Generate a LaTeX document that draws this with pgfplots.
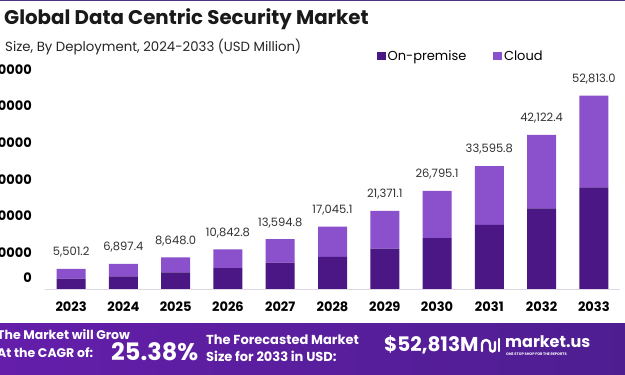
\documentclass[border=0pt]{standalone}
\usepackage{pgfplots}
\pgfplotsset{compat=1.18}
\usepackage{pgfplotstable}
\usepackage{fontspec}
\setmainfont{Poppins}
\definecolor{onprem}{RGB}{74,23,132}
\definecolor{cloud}{RGB}{139,80,204}
\definecolor{bandL}{RGB}{100,30,170}
\definecolor{bandM}{RGB}{162,36,198}
\definecolor{bandR}{RGB}{78,30,145}
\definecolor{topline}{RGB}{80,50,130}
\definecolor{lineg}{RGB}{222,216,230}
\definecolor{valtxt}{RGB}{50,50,50}

\pgfplotstableread{
x onprem cloud total lab
0 2820 2681.2 5501.2 5,501.2
1 3480 3417.4 6897.4 6,897.4
2 4570 4078.0 8648.0 8,648.0
3 5670 5172.8 10842.8 10,842.8
4 7200 6394.8 13594.8 13,594.8
5 8770 8275.1 17045.1 17,045.1
6 11050 10321.1 21371.1 21,371.1
7 13890 12905.1 26795.1 26,795.1
8 17530 16065.8 33595.8 33,595.8
9 22000 20122.4 42122.4 42,122.4
10 27750 25063.0 52813.0 52,813.0
}\datatable

\pgfplotsset{commonax/.style={
  at={(45pt,86pt)}, anchor=south west,
  scale only axis, width=575pt, height=219.6pt,
  xmin=-0.5, xmax=10.5, ymin=0, ymax=60000, clip=false}}

\begin{document}
\begin{tikzpicture}[x=1pt,y=1pt]
\path[use as bounding box] (0,0) rectangle (625,375);
\clip (0,0) rectangle (625,375);
\fill[white] (0,0) rectangle (625,375);
% top line
\fill[topline] (0,373.5) rectangle (625,375);
% bottom banner
\shade[left color=bandL, middle color=bandM, right color=bandR, shading angle=90] (0,0) rectangle (625,51);

\begin{axis}[commonax,
  ybar stacked, bar width=29pt,
  xtick={0,...,10},
  xticklabels={2023,2024,2025,2026,2027,2028,2029,2030,2031,2032,2033},
  ytick={0,10000,20000,30000,40000,50000,60000},
  yticklabels={\smash{\raisebox{6pt}{0}},10000,20000,30000,40000,50000,60000},
  axis x line*=bottom, axis y line*=left,
  y axis line style={draw=none},
  x axis line style={draw=lineg, line width=0.9pt},
  major tick length=0pt,
  xticklabel style={font=\fontsize{13}{13}\selectfont\bfseries, inner sep=0pt, yshift=-12.5pt, anchor=north},
  yticklabel style={font=\fontsize{13}{13}\selectfont\bfseries, inner sep=0pt, xshift=-13pt, anchor=east},
  scaled y ticks=false,
  legend style={at={(0.577,1.061)}, anchor=west, draw=none, fill=none, inner sep=0pt,
    font=\fontsize{13}{13}\selectfont, legend columns=2,
    /tikz/every even column/.append style={column sep=25pt}},
  legend cell align=left,
  legend image code/.code={\path[#1] (0pt,-4.2pt) rectangle (8.6pt,4.4pt);},
]
\addplot[fill=onprem, draw=none] table[x=x, y=onprem]{\datatable};
\addplot[fill=cloud, draw=none] table[x=x, y=cloud]{\datatable};
\legend{On-premise, Cloud}
\end{axis}

\begin{axis}[commonax, hide axis]
\addplot[draw=none, mark=none,
  nodes near coords, point meta=explicit symbolic,
  nodes near coords style={font=\fontsize{11.5}{11.5}\selectfont, text=valtxt, anchor=center, yshift=16.5pt, inner sep=0pt}]
  table[x=x, y=total, meta=lab]{\datatable};
\end{axis}

% titles
\node[anchor=west, inner sep=0pt, text=black!90] at (4,356) {\fontsize{19.8}{20}\selectfont\bfseries Global Data Centric Security Market};
\node[anchor=west, inner sep=0pt, text=black!85] at (5,327.5) {\fontsize{13.3}{14}\selectfont Size, By Deployment, 2024-2033 (USD Million)};

% banner text
\node[anchor=west, inner sep=0pt, text=white, align=left, font=\fontsize{12.5}{18}\selectfont\bfseries] at (-3,31) {The Market will Grow\\ At the CAGR of:};
\node[anchor=west, inner sep=0pt, text=white] at (111,23) {\fontsize{24}{24}\selectfont\bfseries 25.38\%};
\node[anchor=west, inner sep=0pt, text=white, align=left, font=\fontsize{13}{16.5}\selectfont\bfseries] at (206,27) {The Forecasted Market\\ Size for 2033 in USD:};
\node[anchor=west, inner sep=0pt, text=white] at (384,30) {\fontsize{20}{20}\selectfont\bfseries \$52,813M};
% logo
\draw[white, line width=2.4pt, line cap=round] (482,24) -- (482,31) arc[start angle=180, end angle=0, radius=4] -- (490,26) arc[start angle=180, end angle=360, radius=2.5] -- (495,33);
\draw[white, line width=2.4pt, line cap=round] (499,24) -- (499,36);
\node[anchor=west, inner sep=0pt, text=white] at (505,33) {\fontsize{16}{16}\selectfont\bfseries market.us};
\node[anchor=west, inner sep=0pt, text=white!85] at (506,21) {\fontsize{3.6}{4}\selectfont\bfseries ONE STOP SHOP FOR THE REPORTS};
\end{tikzpicture}
\end{document}
